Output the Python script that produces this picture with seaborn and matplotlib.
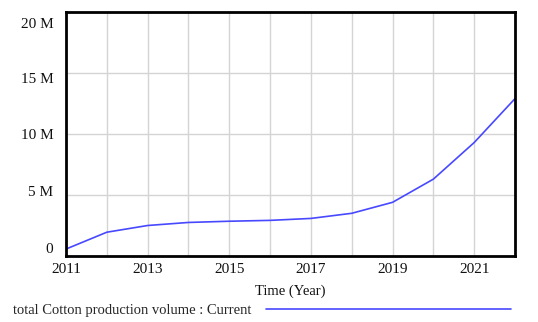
import matplotlib
matplotlib.use("Agg")
import matplotlib.pyplot as plt
import matplotlib.transforms as mtransforms
import numpy as np
import pandas as pd
import seaborn as sns

# Simulated total cotton production volume, run "Current"
years = [2011, 2012, 2013, 2014, 2015, 2016, 2017, 2018, 2019, 2020, 2021, 2022]
volume_millions = [0.57, 1.95, 2.5, 2.75, 2.85, 2.92, 3.08, 3.5, 4.4, 6.3, 9.3, 12.9]
y_ticks = [0, 5e6, 10e6, 15e6, 20e6]
y_tick_labels = ["0", "5 M", "10 M", "15 M", "20 M"]
x_ticks = [2011, 2013, 2015, 2017, 2019, 2021]
series_label = "total Cotton production volume : Current"

df = pd.DataFrame({
    "year": years,
    "volume": [v * 1e6 for v in volume_millions],
    "run": series_label,
})

sns.set_theme(style="white")
plt.rcParams["font.family"] = ["Liberation Serif", "DejaVu Serif"]

fig = plt.figure(figsize=(5.38, 3.22), dpi=100)
W, H = 538, 322
left, right, top, bottom = 66, 515, 12, 256
ax = fig.add_axes([left / W, 1 - bottom / H, (right - left) / W, (bottom - top) / H])

sns.lineplot(data=df, x="year", y="volume", hue="run", palette=["#4848ff"],
             linewidth=1.2, ax=ax, legend=False)

ax.set_xlim(2011, 2022)
ax.set_ylim(0, 20e6)
ax.set_xticks(range(2011, 2023), minor=True)
ax.set_xticks(x_ticks)
ax.set_xticklabels([str(t) for t in x_ticks], fontsize=11, color="#111111")
ax.set_yticks(y_ticks)
ax.set_yticklabels(y_tick_labels, fontsize=11, color="#111111")

ax.grid(True, which="both", axis="x", color="#d4d4d4", linewidth=1.0)
ax.grid(True, which="major", axis="y", color="#d4d4d4", linewidth=1.0)
ax.set_axisbelow(True)
ax.tick_params(axis="both", which="both", length=0)
ax.tick_params(axis="x", pad=5)
ax.tick_params(axis="y", pad=9)

for side in ["left", "right", "top", "bottom"]:
    ax.spines[side].set_visible(True)
    ax.spines[side].set_color("black")
    ax.spines[side].set_linewidth(2.0)

# y labels are spread slightly inside the frame
offsets_px = [8, 4, 0, -5, -11]
for lab, dy in zip(ax.get_yticklabels(), offsets_px):
    lab.set_transform(lab.get_transform() +
                      mtransforms.ScaledTranslation(0, dy / 100, fig.dpi_scale_trans))

ax.set_xlabel("Time (Year)", fontsize=10.5, color="#111111", labelpad=6)
ax.set_ylabel("")

# legend row below the axis
handle = plt.Line2D([], [], color="#4848ff", linewidth=1.2)
fig.legend([handle], [series_label], loc="center left",
           bbox_to_anchor=(13 / W, 1 - 310 / H), frameon=False,
           markerfirst=False, handlelength=16.8, handletextpad=1.0,
           fontsize=10.5, borderaxespad=0, borderpad=0)

fig.savefig("out.png", dpi=100)
